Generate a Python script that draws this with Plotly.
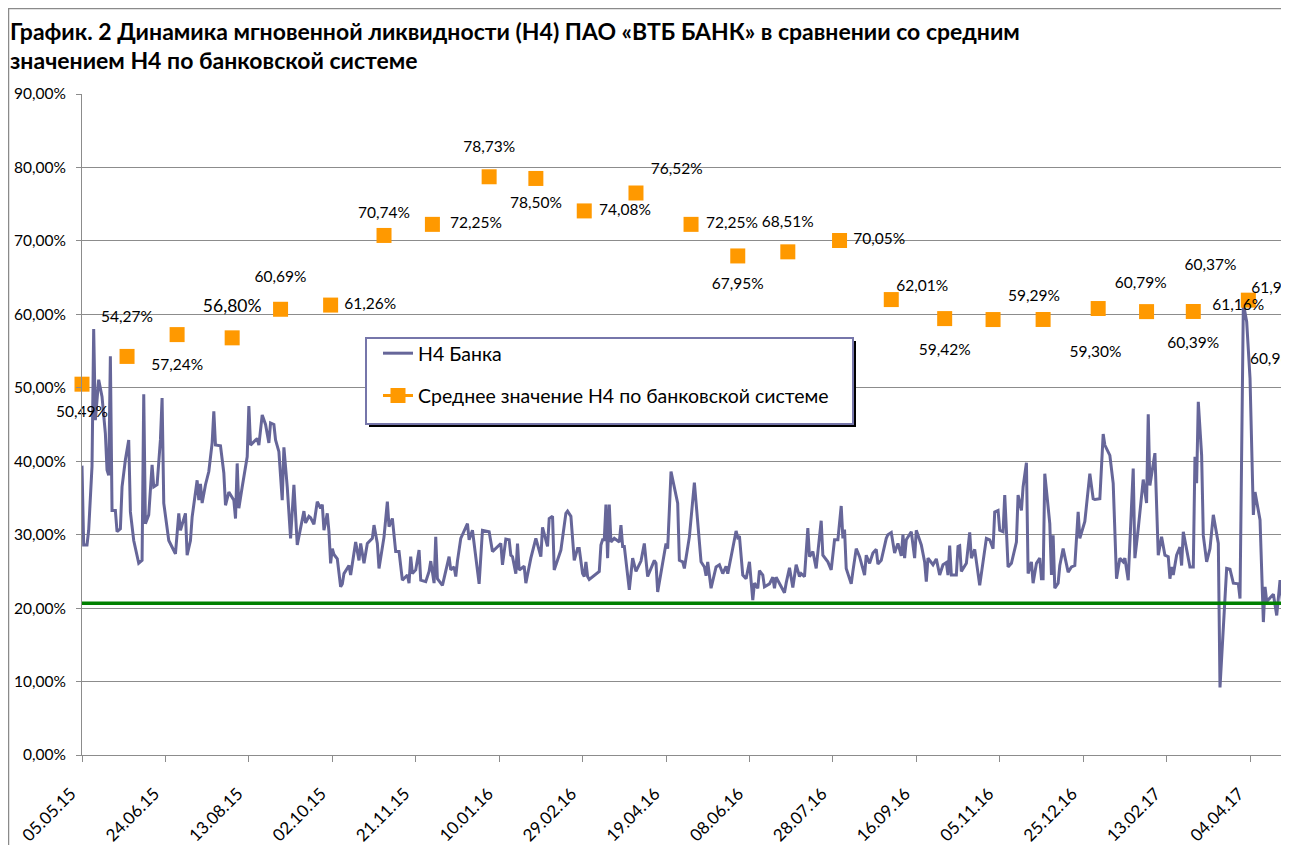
import pandas as pd
import plotly.graph_objects as go

# ---------------- data ----------------
start_date = pd.Timestamp("2015-05-05")

# H4 of the bank: day offsets from start_date and values (%)
h4_day_offsets = [
    0, 1, 3, 4, 6, 7, 8, 10, 12, 14,
    15, 16, 17, 18, 20, 21, 23, 24, 26, 28,
    29, 31, 34, 36, 37, 38, 40, 42, 43, 45,
    47, 48, 49, 52, 56, 58, 59, 62, 63, 65,
    66, 69, 70, 71, 72, 74, 76, 78, 79, 80,
    83, 85, 86, 88, 91, 92, 93, 94, 96, 99,
    100, 101, 105, 106, 108, 110, 112, 113, 115, 116,
    118, 120, 121, 123, 125, 127, 129, 131, 133, 134,
    136, 137, 139, 141, 143, 144, 145, 147, 148, 149,
    150, 151, 153, 155, 156, 157, 160, 161, 163, 164,
    166, 167, 169, 171, 174, 175, 177, 178,
    181, 183, 184, 186, 188, 190, 192, 195, 196, 197,
    198, 200, 202, 203, 206, 208, 209, 211, 212, 213,
    216, 220, 221, 223, 224, 225, 227, 231, 232, 234,
    238, 240, 244, 246, 251, 252, 254, 256, 257, 258,
    260, 261, 262, 263, 265, 266, 269, 272, 275, 276,
    279, 280, 282, 283, 287, 290, 291, 293, 295, 297,
    298, 300, 301, 302, 303, 304, 310, 311, 312, 313,
    314, 315, 316, 317, 319, 322, 323, 324, 325, 328,
    330, 332, 335, 337, 339, 343, 344, 345, 347, 350,
    351, 353, 357, 358, 360, 361,
    364, 367, 371, 373, 374, 375, 377, 380, 382, 384,
    386, 387, 389, 392, 393, 394, 396, 398, 400, 402,
    403, 405, 406, 408, 409, 412, 414, 415, 416, 421,
    422, 424, 426, 428, 430, 431, 433, 435, 436, 438,
    440, 441, 443, 444, 447, 449, 451, 453, 455, 456,
    457, 458, 461, 462, 464, 466, 467, 469, 470, 472,
    474, 476, 477, 479, 482, 483, 485, 487, 488, 489,
    491, 492, 493, 494, 497, 498, 499, 500, 503, 505,
    506, 507, 510, 512, 514, 516, 518, 519, 520, 521,
    524, 525, 526, 527, 530, 532, 533, 535, 538, 542,
    544, 546,
    547, 549, 550, 552, 553, 554, 555, 557, 560, 561,
    563, 564, 566, 567, 569, 570, 572, 574, 575, 576,
    577, 580, 581, 582, 583, 585, 586, 588, 589, 591,
    593, 595, 597, 598, 601, 604, 606, 607, 610, 612,
    613, 616, 618, 620, 622, 624, 625, 627, 630, 631,
    633, 636, 638, 639, 640, 643, 645, 647, 649, 651,
    652, 653, 654, 656, 658, 659, 660, 664, 666, 667,
    668, 669, 671, 672, 674, 676, 678, 681, 682, 686,
    688, 690, 693, 694, 696, 698, 700, 702, 703, 706,
    708, 709, 710, 714, 716, 718, 720, 722, 724,
]
h4_values = [
    39.4, 28.6, 28.6, 30.6, 39.3, 58.0, 45.6, 51.1, 48.8, 43.8,
    38.8, 38.1, 54.3, 33.3, 33.3, 30.4, 30.8, 36.5, 40.2, 42.9,
    33.1, 29.2, 26.1, 26.5, 49.1, 31.5, 32.7, 39.5, 36.5, 36.8,
    42.9, 48.6, 34.3, 29.2, 27.4, 32.9, 30.6, 32.9, 27.2, 29.2,
    32.4, 37.4, 34.7, 36.9, 34.3, 36.8, 38.6, 42.5, 46.8, 42.2,
    42.1, 38.4, 34.0, 35.8, 34.7, 32.2, 39.7, 33.6, 36.5, 40.6,
    47.5, 42.2, 43.1, 42.2, 46.3, 45.0, 42.5, 45.2, 45.0, 42.9,
    41.3, 34.7, 41.9, 36.5, 29.5, 36.8, 28.6, 31.1, 33.2, 31.6,
    32.5, 32.3, 31.4, 34.5, 33.6, 34.1, 30.6, 32.9, 30.4, 26.1,
    28.1, 27.3, 26.7, 22.9, 23.3, 24.7, 25.8, 24.5, 27.2, 29.0,
    26.5, 28.8, 26.1, 28.8, 29.5, 31.3, 28.8, 25.4,
    29.7, 34.5, 31.1, 32.2, 27.7, 27.7, 23.8, 24.5, 23.4, 27.0,
    24.7, 25.2, 27.9, 23.8, 23.6, 25.0, 26.4, 23.4, 29.7, 24.0,
    23.1, 27.0, 25.2, 25.6, 24.3, 26.4, 29.5, 31.5, 29.3, 30.6,
    23.3, 30.6, 30.4, 27.7, 28.8, 25.9, 29.4, 29.3, 27.2, 27.0,
    24.7, 28.8, 25.2, 25.4, 25.7, 23.4, 26.8, 29.5, 27.0, 31.0,
    28.4, 32.2, 32.5, 25.2, 27.9, 32.9, 33.2, 32.5, 26.5, 28.1,
    28.1, 24.7, 24.3, 26.3, 24.3, 23.9, 25.0, 28.6, 29.3, 29.3,
    34.1, 26.8, 34.1, 29.0, 29.5, 29.0, 31.3, 28.4, 28.4, 22.5,
    26.8, 25.0, 26.4, 28.8, 24.3, 26.5, 26.1, 22.2, 24.7, 28.8,
    28.1, 38.6, 34.3, 26.5, 26.3, 25.4,
    29.7, 37.1, 26.3, 25.6, 24.4, 26.3, 22.7, 25.6, 25.9, 24.7,
    25.7, 24.7, 27.0, 30.5, 29.6, 29.8, 24.5, 24.0, 26.3, 21.1,
    23.4, 22.7, 25.1, 24.5, 22.9, 23.3, 24.2, 22.7, 24.2, 22.1,
    23.4, 25.5, 22.8, 25.9, 24.3, 24.7, 24.3, 30.9, 27.0, 27.7,
    25.4, 27.5, 31.9, 27.2, 26.3, 25.2, 29.3, 29.3, 33.9, 29.5,
    30.7, 25.4, 23.3, 25.0, 28.1, 27.0, 26.1, 24.5, 27.2, 26.1,
    27.5, 28.0, 26.0, 26.5, 29.5, 30.0, 30.3, 27.5, 28.2, 28.8,
    27.1, 30.0, 26.8, 29.3, 30.4, 28.1, 26.8, 30.6, 28.6, 26.3,
    23.6, 26.8, 25.9, 26.7, 24.5, 25.9, 26.2, 24.5, 28.5, 24.5,
    24.5, 28.4, 28.5, 25.0, 26.1, 30.3, 26.8, 28.0, 23.1, 29.5,
    29.3, 28.1,
    33.1, 33.3, 30.6, 30.4, 35.4, 30.6, 25.6, 26.1, 29.0, 35.4,
    33.3, 36.5, 39.8, 24.7, 26.3, 23.4, 26.1, 26.8, 24.0, 24.0,
    38.3, 31.5, 24.5, 29.9, 22.7, 23.4, 25.8, 28.1, 26.9, 24.9,
    25.6, 25.8, 33.1, 29.5, 31.8, 38.3, 34.9, 34.8, 34.9, 43.7,
    42.2, 40.8, 37.0, 24.0, 26.8, 26.3, 26.8, 23.8, 39.0, 26.8,
    30.8, 37.5, 34.3, 46.4, 36.7, 41.1, 27.2, 29.7, 27.2, 27.0,
    24.0, 25.6, 24.5, 27.2, 28.3, 25.8, 30.4, 25.6, 25.6, 40.6,
    37.0, 48.1, 40.8, 29.9, 26.3, 28.1, 32.7, 28.8, 9.2, 25.4,
    25.3, 23.4, 23.3, 21.3, 61.5, 59.0, 51.3, 32.7, 35.8, 32.0,
    18.1, 22.9, 20.9, 21.9, 19.0, 23.8, 19.7, 19.9, 22.7,
]
assert len(h4_day_offsets) == len(h4_values), (len(h4_day_offsets), len(h4_values))
h4_dates = start_date + pd.to_timedelta(h4_day_offsets, unit="D")

# Average H4 of the banking system (monthly)
avg_dates = [
    "2015-05-05", "2015-06-01", "2015-07-01", "2015-08-03", "2015-09-01",
    "2015-10-01", "2015-11-02", "2015-12-01", "2016-01-04", "2016-02-01",
    "2016-03-01", "2016-04-01", "2016-05-04", "2016-06-01", "2016-07-01",
    "2016-08-01", "2016-09-01", "2016-10-03", "2016-11-01", "2016-12-01",
    "2017-01-03", "2017-02-01", "2017-03-01", "2017-04-03", "2017-05-02",
    "2017-06-01",
]
avg_values = [
    50.49, 54.27, 57.24, 56.80, 60.69,
    61.26, 70.74, 72.25, 78.73, 78.50,
    74.08, 76.52, 72.25, 67.95, 68.51,
    70.05, 62.01, 59.42, 59.29, 59.30,
    60.79, 60.37, 60.39, 61.93, 61.16,
    60.96,
]

threshold_value = 20.66

x_tick_labels = [
    "05.05.15", "24.06.15", "13.08.15", "02.10.15", "21.11.15",
    "10.01.16", "29.02.16", "19.04.16", "08.06.16", "28.07.16",
    "16.09.16", "05.11.16", "25.12.16", "13.02.17", "04.04.17",
]
x_tick_values = pd.to_datetime(x_tick_labels, format="%d.%m.%y")
y_tick_values = [0, 10, 20, 30, 40, 50, 60, 70, 80, 90]
y_tick_labels = ["0,00%", "10,00%", "20,00%", "30,00%", "40,00%",
                 "50,00%", "60,00%", "70,00%", "80,00%", "90,00%"]

title_text = ("<b>График. 2 Динамика мгновенной ликвидности (Н4) ПАО «ВТБ БАНК» в сравнении со средним"
              "<br>значением Н4 по банковской системе</b>")
name_bank = "Н4 Банка"
name_avg = "Среднее значение Н4 по банковской системе"

# ---------------- label styling (placement only) ----------------
label_pos = [
    "bottom center", "top center", "bottom center", "top center", "top center",
    "middle right", "top center", "middle right", "top center", "bottom center",
    "middle right", "top right", "middle right", "bottom center", "top center",
    "middle right", "top right", "bottom center", "top right", "bottom right",
    "top right", "top right", "bottom center", "top right", "middle left",
    "bottom left",
]
label_gap = [
    31.7, 47.5, 36.5, 32.8, 36.3,
    20.2, 20.3, 26.7, 32.5, 27.4,
    21.9, 21.9, 22.4, 33.3, 32.0,
    20.2, 6.4, 38.6, 22.4, 40.5,
    25.1, 59.2, 38.1, 3.2, 50.4,
    70.4,
]
label_font = [15.5] * len(avg_values)
label_font[3] = 17.5

FONT = "Lato"
BANK_COLOR = "#666699"
AVG_COLOR = "#FF9900"
GRID = "#8c8c8c"

# figure geometry (the page adds an 8 px body margin)
PAGE_OFF = 8
W, H = 1341, 837
ML, MR, MT, MB = 74, 0, 86, 90
PW, PH = W - ML - MR, H - MT - MB
PX_PER_DAY = 1.6686
x_end_days = PW / PX_PER_DAY


def px_x(p):
    """page pixel -> paper x"""
    return (p - PAGE_OFF - ML) / PW


def px_y(p):
    """page pixel -> paper y"""
    return (PAGE_OFF + MT + PH - p) / PH


fig = go.Figure()

fig.add_trace(go.Scatter(
    x=h4_dates, y=h4_values, mode="lines", name=name_bank,
    line=dict(color=BANK_COLOR, width=3), legendgroup="bank",
))
fig.add_trace(go.Scatter(
    x=avg_dates, y=avg_values, mode="markers", name=name_avg,
    marker=dict(symbol="square", size=15, color=AVG_COLOR, line=dict(width=0)),
    cliponaxis=False, showlegend=False, legendgroup="avg",
))
fig.add_trace(go.Scatter(
    x=avg_dates, y=avg_values, mode="markers+text",
    marker=dict(size=label_gap, color="rgba(0,0,0,0)", opacity=0, line=dict(width=0)),
    texttemplate="%{y:.2f}%", textposition=label_pos,
    textfont=dict(family=FONT, size=label_font, color="black"),
    cliponaxis=False, showlegend=False, hoverinfo="skip",
))
# legend entry for the average series (line + square as in the source)
fig.add_trace(go.Scatter(
    x=[None], y=[None], mode="lines+markers", name=name_avg,
    line=dict(color=AVG_COLOR, width=3),
    marker=dict(symbol="square", size=15, color=AVG_COLOR),
    legendgroup="avg",
))

shapes = [
    # outer chart border
    dict(type="rect", xref="paper", yref="paper",
         x0=px_x(8.5), x1=1.2, y0=-0.3, y1=px_y(8.5),
         line=dict(color="#8a8a8a", width=1.5), fillcolor="rgba(0,0,0,0)", layer="below"),
    # threshold line
    dict(type="line", xref="paper", yref="y", x0=0, x1=1,
         y0=threshold_value, y1=threshold_value,
         line=dict(color="#008000", width=3.5), layer="above"),
    # legend shadow
    dict(type="rect", xref="paper", yref="paper",
         x0=px_x(369), x1=px_x(856), y0=px_y(427), y1=px_y(341),
         line=dict(width=0), fillcolor="black", layer="above"),
    # legend box
    dict(type="rect", xref="paper", yref="paper",
         x0=px_x(366), x1=px_x(853), y0=px_y(424), y1=px_y(338),
         line=dict(color="#7676aa", width=2), fillcolor="white", layer="above"),
]

fig.update_layout(
    width=W, height=H,
    margin=dict(l=ML, r=MR, t=MT, b=MB, pad=0),
    paper_bgcolor="white", plot_bgcolor="white",
    separators=", ",
    font=dict(family=FONT, size=15.5, color="black"),
    title=dict(text=title_text, x=2 / W, xanchor="left", xref="container",
               y=1 - 31.5 / H, yanchor="top", yref="container",
               font=dict(family=FONT, size=23, color="black")),
    showlegend=True,
    legend=dict(x=px_x(378), y=px_y(334), xanchor="left", yanchor="top",
                bgcolor="rgba(0,0,0,0)", borderwidth=0,
                font=dict(family=FONT, size=19.5, color="black"),
                tracegroupgap=14, traceorder="grouped"),
    shapes=shapes,
    xaxis=dict(
        type="date",
        range=[start_date, start_date + pd.Timedelta(days=x_end_days)],
        tickmode="array", tickvals=x_tick_values, ticktext=x_tick_labels,
        tickangle=-45, ticks="outside", ticklen=6, tickcolor=GRID,
        showline=True, linecolor=GRID, linewidth=1,
        showgrid=False, zeroline=False,
        ticklabelstandoff=15, ticklabelshift=-11,
        tickfont=dict(family=FONT, size=17, color="black"),
    ),
    yaxis=dict(
        range=[0, 90], tickmode="array", tickvals=y_tick_values,
        ticktext=y_tick_labels,
        ticks="outside", ticklen=5, tickcolor=GRID,
        showline=True, linecolor=GRID, linewidth=1,
        showgrid=True, gridcolor=GRID, gridwidth=1,
        zeroline=False, ticklabelstandoff=7,
        tickfont=dict(family=FONT, size=15.5, color="black"),
    ),
)

fig.write_html("out.html")
